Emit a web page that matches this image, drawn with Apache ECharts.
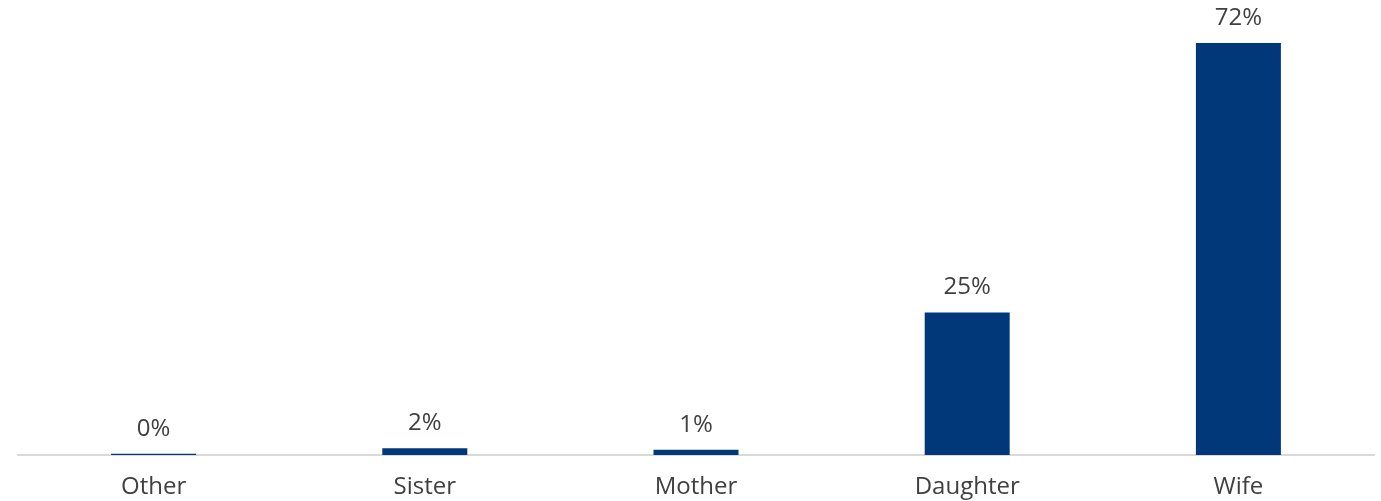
<!DOCTYPE html>
<html>
<head>
<meta charset="utf-8">
<script src="https://cdn.jsdelivr.net/npm/echarts@6/dist/echarts.min.js"></script>
<style>html,body{margin:0;padding:0;background:#fff}#c{width:1381px;height:501px}</style>
</head>
<body>
<div id="c"></div>
<script>
const categories = ["Other", "Sister", "Mother", "Daughter", "Wife"];
const values = [0.2, 1.2, 0.9, 24.9, 72];
const valueLabels = ["0%", "2%", "1%", "25%", "72%"];

const chart = echarts.init(document.getElementById('c'));
chart.setOption({
  animation: false,
  grid: { left: 18, right: 7, top: 43, bottom: 46, containLabel: false },
  xAxis: {
    type: 'category',
    data: categories,
    axisLine: { lineStyle: { color: '#d9d9d9', width: 2 } },
    axisTick: { show: false },
    axisLabel: { color: '#404040', fontSize: 24, fontFamily: 'Open Sans', margin: 20 }
  },
  yAxis: {
    type: 'value', min: 0, max: 72,
    show: false, splitLine: { show: false }
  },
  series: [{
    type: 'bar',
    data: values,
    barWidth: 85,
    itemStyle: { color: '#00387a' },
    label: {
      show: true, position: 'top', distance: 13,
      color: '#404040', fontSize: 24, fontFamily: 'Open Sans',
      formatter: p => valueLabels[p.dataIndex]
    }
  }]
});
</script>
</body>
</html>
